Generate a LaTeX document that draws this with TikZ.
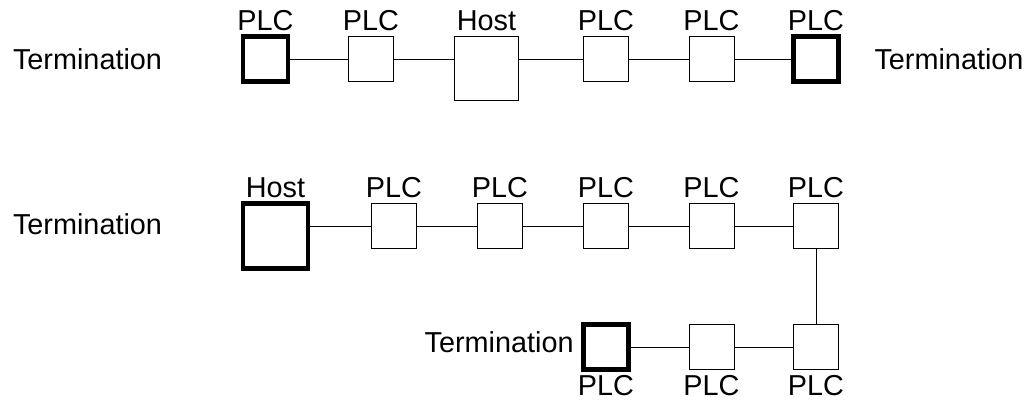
\documentclass[tikz,border=0pt]{standalone}
\usepackage{fontspec}
\setmainfont{Liberation Sans}
\usetikzlibrary{positioning}
\tikzset{
  plc/.style={draw, line width=0.7pt, minimum size=1.125cm, inner sep=0pt, outer sep=0pt},
  endplc/.style={plc, line width=3.2pt},
  host/.style={plc, minimum size=1.6cm},
  endhost/.style={endplc, minimum size=1.625cm},
  tag/.style={inner sep=0pt, font=\fontsize{20.5}{24}\selectfont},
  wire/.style={line width=0.7pt}
}
\begin{document}
\begin{tikzpicture}
\useasboundingbox (0,0) rectangle (25.8,10.075);
\def\up{0.13cm}
\def\dn{0.15cm}
% upper bus, host in the middle
\node[endplc] (u1) at (6.6375,8.6) {};
\node[plc] (u2) at (9.275,8.6) {};
\node[host] (uh) at (12.1625,8.3625) {};
\node[plc] (u4) at (15.15,8.6) {};
\node[plc] (u5) at (17.7875,8.6) {};
\node[endplc] (u6) at (20.4,8.6) {};
\foreach \n/\t in {u1/PLC,u2/PLC,uh/Host,u4/PLC,u5/PLC,u6/PLC}
  \node[tag, above=\up of \n] (\n-tag) {\t};
\node[tag] (uterm1) at (2.1875,8.6) {Termination};
\node[tag] (uterm2) at (23.725,8.6) {Termination};
\draw[wire] (u1) -- (u2) (u2) -- (u2 -| uh.west);
\draw[wire] (u4 -| uh.east) -- (u4) (u4) -- (u5) (u5) -- (u6);

% lower bus, host at one end
\node[endhost] (lh) at (6.8875,4.175) {};
\node[plc] (l1) at (9.85,4.425) {};
\node[plc] (l2) at (12.5,4.425) {};
\node[plc] (l3) at (15.15,4.425) {};
\node[plc] (l4) at (17.7875,4.425) {};
\node[plc] (l5) at (20.4,4.425) {};
\foreach \n/\t in {lh/Host,l1/PLC,l2/PLC,l3/PLC,l4/PLC,l5/PLC}
  \node[tag, above=\up of \n] (\n-tag) {\t};
\node[tag] (lterm1) at (2.1875,4.4625) {Termination};
\draw[wire] (l1 -| lh.east) -- (l1) (l1) -- (l2) (l2) -- (l3) (l3) -- (l4) (l4) -- (l5);

% return leg
\node[endplc] (r1) at (15.15,1.4) {};
\node[plc] (r2) at (17.7875,1.4) {};
\node[plc] (r3) at (20.4,1.4) {};
\foreach \n in {r1,r2,r3}
  \node[tag, below=\dn of \n] (\n-tag) {PLC};
\node[tag, left=0.24cm of r1, yshift=0.12cm] (lterm2) {Termination};
\draw[wire] (l5) -- (r3) (r3) -- (r2) (r2) -- (r1);
\end{tikzpicture}
\end{document}
